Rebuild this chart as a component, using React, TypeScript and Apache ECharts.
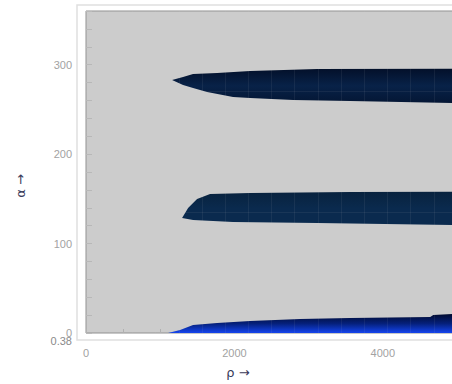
import { useEffect, useRef } from "react";
import * as echarts from "echarts";

// Axis ranges and tick spacing
const rhoMax = 5000;
const alphaMax = 360;
const rhoTickStep = 500;
const rhoLabelStep = 2000;
const alphaTickStep = 20;
const alphaLabelStep = 100;
const rhoMeshStep = 312.5;
const alphaMeshStep = 45;

// Upper band (α ≈ 257–295)
const upperTopRho = [1160, 1308, 1443, 1767, 2212, 3115, 5000];
const upperTopAlpha = [282.9, 286.2, 289.6, 290.7, 292.9, 295.2, 295.5];
const upperBotRho = [1160, 1308, 1443, 1632, 1982, 2212, 2792, 3560, 5000];
const upperBotAlpha = [282.9, 277.3, 273.9, 269.5, 263.9, 262.7, 260.5, 259.4, 256.9];

// Middle band (α ≈ 121–158)
const middleTopRho = [1295, 1376, 1497, 1672, 2212, 3560, 5000];
const middleTopAlpha = [128.6, 139.8, 149.8, 155.4, 156.5, 157.6, 157.8];
const middleBotRho = [1295, 1443, 1982, 3115, 5000];
const middleBotAlpha = [128.6, 126.3, 124.1, 123.0, 120.7];

// Lower band (α ≈ 0–21)
const lowerTopRho = [1106, 1268, 1443, 1767, 2212, 2886, 3560, 4639, 4680, 4936, 5000];
const lowerTopAlpha = [0, 3.4, 8.9, 11.2, 13.4, 15.7, 16.8, 17.9, 20.1, 21.2, 21.3];
const lowerBotRho = [1106, 5000];
const lowerBotAlpha = [0, 0];

const bands = [
  {
    topRho: upperTopRho, topAlpha: upperTopAlpha, botRho: upperBotRho, botAlpha: upperBotAlpha,
    colors: ["#03102a", "#082248", "#041634"],
  },
  {
    topRho: middleTopRho, topAlpha: middleTopAlpha, botRho: middleBotRho, botAlpha: middleBotAlpha,
    colors: ["#08223e", "#0a2a4e", "#0a2a4e"],
  },
  {
    topRho: lowerTopRho, topAlpha: lowerTopAlpha, botRho: lowerBotRho, botAlpha: lowerBotAlpha,
    colors: ["#000a2e", "#05207a", "#1444ee"],
  },
];

export default function App() {
  const ref = useRef<HTMLDivElement>(null);

  useEffect(() => {
    if (!ref.current) return;
    const chart = echarts.init(ref.current, undefined, { renderer: "svg" });
    const labelFont = { color: "#a2a2a2", fontSize: 11, fontFamily: "Liberation Sans, Arial, sans-serif" };
    const meshLine = { show: true, lineStyle: { color: "rgba(204,204,204,0.08)", width: 1 } };

    chart.setOption({
      animation: false,
      grid: {
        left: 86,
        top: 11,
        right: 3,
        bottom: 51,
        show: true,
        backgroundColor: "#cccccc",
        borderColor: "#909090",
        borderWidth: 1,
      },
      xAxis: [
        {
          type: "value",
          min: 0,
          max: rhoMax,
          interval: rhoTickStep,
          offset: 6,
          axisLine: { show: false },
          axisTick: { show: true, inside: true, length: 4, lineStyle: { color: "#b0b0b0" } },
          axisLabel: {
            ...labelFont,
            margin: 8,
            formatter: (v: number) => (v % rhoLabelStep === 0 ? String(v) : ""),
          },
          splitLine: { show: false },
        },
        {
          type: "value",
          min: 0,
          max: rhoMax,
          interval: rhoMeshStep,
          z: 5,
          axisLine: { show: false },
          axisTick: { show: false },
          axisLabel: { show: false },
          splitLine: meshLine,
        },
      ],
      yAxis: [
        {
          type: "value",
          min: 0,
          max: alphaMax,
          interval: alphaTickStep,
          offset: 8,
          axisLine: { show: false },
          axisTick: { show: true, inside: true, length: 6, lineStyle: { color: "#b8b8b8" } },
          axisLabel: {
            ...labelFont,
            margin: 6,
            formatter: (v: number) => (v % alphaLabelStep === 0 ? String(v) : ""),
          },
          splitLine: { show: false },
        },
        {
          type: "value",
          min: 0,
          max: alphaMax,
          interval: alphaMeshStep,
          z: 5,
          axisLine: { show: false },
          axisTick: { show: false },
          axisLabel: { show: false },
          splitLine: meshLine,
        },
      ],
      series: [
        {
          type: "custom",
          xAxisIndex: 0,
          yAxisIndex: 0,
          clip: true,
          data: bands.map((_, i) => [i, 0]),
          renderItem: (params: any, api: any) => {
            const b = bands[params.dataIndex];
            const pts: number[][] = [];
            b.topRho.forEach((r, i) => pts.push(api.coord([r, b.topAlpha[i]])));
            for (let i = b.botRho.length - 1; i >= 0; i--) {
              pts.push(api.coord([b.botRho[i], b.botAlpha[i]]));
            }
            return {
              type: "polygon",
              shape: { points: pts },
              style: {
                fill: new echarts.graphic.LinearGradient(0, 0, 0, 1, [
                  { offset: 0, color: b.colors[0] },
                  { offset: 0.5, color: b.colors[1] },
                  { offset: 1, color: b.colors[2] },
                ]),
                stroke: null,
              },
            };
          },
        },
      ],
      graphic: [
        {
          type: "polyline",
          silent: true,
          shape: { points: [[460, 5], [77, 5], [77, 340], [460, 340]] },
          style: { stroke: "#e0e0e0", lineWidth: 1.5, fill: null },
        },
        {
          type: "text",
          x: 72,
          y: 341,
          style: {
            text: "0.38",
            align: "right",
            verticalAlign: "middle",
            fill: "#8a8a8a",
            fontSize: 11,
            fontFamily: "Liberation Sans, Arial, sans-serif",
          },
        },
        {
          type: "text",
          x: 20,
          y: 186,
          rotation: Math.PI / 2,
          style: {
            text: "α →",
            align: "center",
            verticalAlign: "middle",
            fill: "#3a3a5a",
            fontSize: 13,
            fontFamily: "DejaVu Sans, sans-serif",
          },
        },
        {
          type: "text",
          x: 238,
          y: 372,
          style: {
            text: "ρ →",
            align: "center",
            verticalAlign: "middle",
            fill: "#3a3a5a",
            fontSize: 13,
            fontFamily: "DejaVu Sans, sans-serif",
          },
        },
      ],
    });

    return () => chart.dispose();
  }, []);

  return (
    <div style={{ position: "fixed", left: 0, top: 0, width: 452, height: 384, overflow: "hidden", background: "#fff" }}>
      <div ref={ref} style={{ width: 460, height: 384 }} />
    </div>
  );
}
